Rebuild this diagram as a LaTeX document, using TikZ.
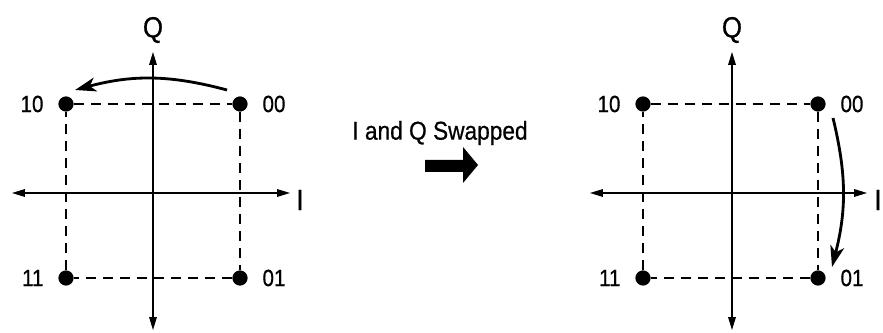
\documentclass[tikz,border=0pt]{standalone}
\usepackage{fontspec}
\setmainfont{Liberation Sans}[FakeStretch=0.88,FakeBold=0.6]
\usetikzlibrary{arrows.meta,positioning}

\begin{document}
\begin{tikzpicture}[x=0.03cm,y=0.03cm,
	dot/.style={shape=circle,fill,inner sep=0pt,minimum size=13pt},
	every label/.style={font=\fontsize{20}{24}\selectfont},
	label distance=9pt,
	axis/.style={line width=1.1pt,{Triangle[length=11pt,width=6.5pt]}-{Triangle[length=11pt,width=6.5pt]}},
	gridline/.style={line width=0.9pt,dash pattern=on 8.5pt off 6pt},
	swaparrow/.style={line width=2.4pt,-{Stealth[length=18pt,width=12pt,inset=5pt]}},
	axlabel/.style={font=\fontsize{25}{28}\selectfont}]
	\useasboundingbox (0,0) rectangle (883,333);
	% before the swap
	\path (66,229) node (a10) [dot] [label=left:10] {}
		  (240,229) node (a00) [dot] [label=right:00] {}
		  (66,55) node (a11) [dot] [label=left:11] {}
		  (240,55) node (a01) [dot] [label=right:01] {}
		  (12,140) coordinate (aW) (290,140) coordinate (aE)
		  (153,3) coordinate (aS) (153,281) coordinate (aN)
		  (153,303) node (aQ) [axlabel] {Q}
		  (300,133) node (aI) [axlabel] {I};
	\draw[axis] (aW) -- (aE);
	\draw[axis] (aS) -- (aN);
	\draw[gridline] (a10) -- (a00);
	\draw[gridline] (a00) -- (a01);
	\draw[gridline] (a01) -- (a11);
	\draw[gridline] (a11) -- (a10);
	\draw[swaparrow] ([shift={(-13,14)}]a00.center) to[bend right=15] ([shift={(9,14)}]a10.center);
	% middle
	\node (swaptext) at (440,200) [font=\fontsize{22}{26}\selectfont] {I and Q Swapped};
	\fill (425,161) -- (463,161) -- (463,150) -- (478,168) -- (463,186) -- (463,173) -- (425,173) -- cycle;
	% after the swap
	\path (643,229) node (b10) [dot] [label=left:10] {}
		  (818,229) node (b00) [dot] [label=right:00] {}
		  (643,55) node (b11) [dot] [label=left:11] {}
		  (818,55) node (b01) [dot] [label=right:01] {}
		  (590,140) coordinate (bW) (867,140) coordinate (bE)
		  (732,3) coordinate (bS) (732,281) coordinate (bN)
		  (732,303) node (bQ) [axlabel] {Q}
		  (878,133) node (bI) [axlabel] {I};
	\draw[axis] (bW) -- (bE);
	\draw[axis] (bS) -- (bN);
	\draw[gridline] (b10) -- (b00);
	\draw[gridline] (b00) -- (b01);
	\draw[gridline] (b01) -- (b11);
	\draw[gridline] (b11) -- (b10);
	\draw[swaparrow] ([shift={(15,-14)}]b00.center) to[bend left=14] ([shift={(14,11)}]b01.center);
\end{tikzpicture}
\end{document}
